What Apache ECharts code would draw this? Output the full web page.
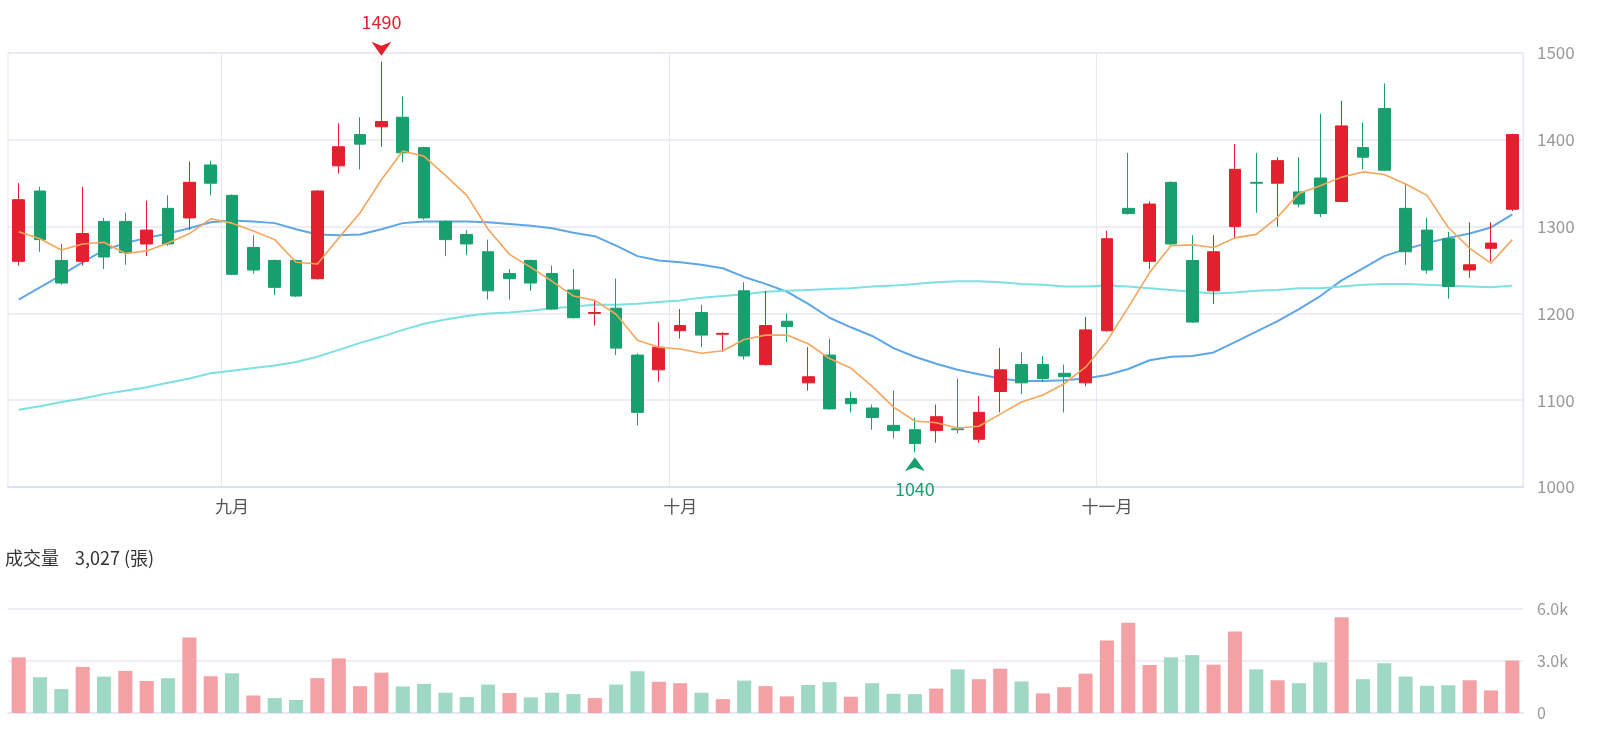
<!DOCTYPE html>
<html>
<head>
<meta charset="utf-8">
<script src="https://cdn.jsdelivr.net/npm/echarts@6/dist/echarts.min.js"></script>
<style>
  html, body { margin: 0; padding: 0; background: #fff; }
  #chart { width: 1600px; height: 735px; }
</style>
</head>
<body>
<div id="chart"></div>
<script>
const dates = [
  '08/18', '08/19', '08/22', '08/23', '08/24', '08/25', '08/26', '08/29', '08/30', '08/31',
  '09/01', '09/02', '09/05', '09/06', '09/07', '09/08', '09/12', '09/13', '09/14', '09/15',
  '09/16', '09/19', '09/20', '09/21', '09/22', '09/23', '09/26', '09/27', '09/28', '09/29', '09/30',
  '10/03', '10/04', '10/05', '10/06', '10/07', '10/11', '10/12', '10/13', '10/14', '10/17',
  '10/18', '10/19', '10/20', '10/21', '10/24', '10/25', '10/26', '10/27', '10/28', '10/31',
  '11/01', '11/02', '11/03', '11/04', '11/07', '11/08', '11/09', '11/10', '11/11', '11/14',
  '11/15', '11/16', '11/17', '11/18', '11/21', '11/22', '11/23', '11/24', '11/25', '11/28'
]
const monthNames = { '09': '九月', '10': '十月', '11': '十一月' }

// [open, close, low, high]
const ohlc = [
  [1260, 1331, 1255, 1350], [1341, 1285, 1271, 1346], [1261, 1235, 1233, 1280], [1260, 1292, 1255, 1346],
  [1306, 1265, 1251, 1310], [1306, 1270, 1256, 1316], [1280, 1296, 1266, 1330], [1321, 1280, 1278, 1336],
  [1310, 1351, 1296, 1375], [1371, 1350, 1336, 1376], [1336, 1245, 1244, 1337], [1276, 1250, 1246, 1290],
  [1261, 1230, 1221, 1262], [1261, 1220, 1219, 1262], [1240, 1341, 1239, 1342], [1370, 1392, 1361, 1419],
  [1406, 1395, 1366, 1426], [1415, 1421, 1392, 1490], [1426, 1385, 1374, 1450], [1391, 1310, 1308, 1392],
  [1306, 1285, 1266, 1307], [1291, 1280, 1267, 1296], [1271, 1226, 1216, 1285], [1246, 1240, 1216, 1251],
  [1261, 1235, 1226, 1262], [1246, 1205, 1204, 1255], [1227, 1195, 1194, 1251], [1200, 1201, 1186, 1215],
  [1206, 1160, 1152, 1240], [1152, 1086, 1071, 1154], [1135, 1161, 1121, 1190], [1180, 1186, 1171, 1205],
  [1201, 1175, 1161, 1210], [1176, 1177, 1156, 1178], [1226, 1151, 1147, 1236], [1141, 1186, 1140, 1226],
  [1191, 1185, 1167, 1200], [1120, 1127, 1111, 1161], [1152, 1090, 1089, 1171], [1102, 1096, 1086, 1110],
  [1091, 1080, 1066, 1095], [1071, 1065, 1056, 1111], [1066, 1050, 1040, 1080], [1065, 1081, 1051, 1095],
  [1067, 1066, 1062, 1125], [1055, 1086, 1051, 1105], [1110, 1135, 1086, 1160], [1141, 1120, 1107, 1155],
  [1141, 1125, 1121, 1151], [1131, 1127, 1086, 1141], [1120, 1181, 1116, 1196], [1180, 1286, 1179, 1295],
  [1321, 1315, 1314, 1385], [1260, 1326, 1251, 1329], [1351, 1280, 1279, 1352], [1261, 1190, 1189, 1290],
  [1226, 1271, 1211, 1290], [1300, 1366, 1286, 1395], [1351, 1350, 1316, 1385], [1350, 1376, 1300, 1380],
  [1340, 1326, 1322, 1380], [1356, 1315, 1311, 1430], [1329, 1416, 1328, 1445], [1391, 1380, 1366, 1420],
  [1436, 1365, 1364, 1465], [1321, 1271, 1256, 1350], [1296, 1250, 1246, 1310], [1286, 1231, 1217, 1294],
  [1250, 1256, 1241, 1305], [1275, 1281, 1260, 1305], [1320, 1406, 1318, 1407]
]

const ma5 = [
  1294, 1286, 1273, 1280, 1282, 1269, 1272, 1281, 1292, 1309,
  1304, 1295, 1285, 1259, 1257, 1287, 1316, 1354, 1387, 1381,
  1359, 1336, 1297, 1268, 1253, 1237, 1220, 1215, 1199, 1169,
  1161, 1159, 1154, 1157, 1170, 1175, 1175, 1165, 1148, 1137,
  1116, 1092, 1076, 1074, 1068, 1070, 1084, 1098, 1106, 1119,
  1138, 1168, 1207, 1247, 1278, 1279, 1276, 1287, 1291, 1311,
  1338, 1347, 1357, 1363, 1360, 1349, 1336, 1299, 1275, 1258, 1285
]
const ma20 = [
  1216, 1230, 1244, 1259, 1273, 1281, 1287, 1292, 1298, 1305,
  1307, 1306, 1304, 1297, 1291, 1290, 1291, 1297, 1304, 1306,
  1306, 1306, 1305, 1303, 1301, 1298, 1293, 1289, 1278, 1266,
  1261, 1259, 1256, 1252, 1242, 1234, 1225, 1211, 1195, 1184,
  1174, 1160, 1150, 1142, 1135, 1130, 1125, 1122, 1122, 1123,
  1125, 1129, 1136, 1146, 1150, 1151, 1155, 1167, 1179, 1191,
  1205, 1220, 1238, 1252, 1266, 1274, 1281, 1287, 1292, 1299, 1314
]
const ma60 = [
  1089, 1093, 1098, 1102, 1107, 1111, 1115, 1120, 1125, 1131,
  1134, 1137, 1140, 1144, 1150, 1158, 1166, 1173, 1181, 1188,
  1193, 1197, 1200, 1201, 1203, 1206, 1208, 1210, 1210, 1211,
  1213, 1215, 1218, 1220, 1222, 1225, 1226, 1227, 1228, 1229,
  1231, 1232, 1234, 1236, 1237, 1237, 1236, 1234, 1233, 1231,
  1231, 1232, 1231, 1229, 1227, 1225, 1223, 1224, 1226, 1227,
  1229, 1229, 1231, 1233, 1234, 1234, 1233, 1232, 1231, 1230, 1232
]

const volumes = [
  3210, 2060, 1380, 2660, 2100, 2430, 1850, 2010, 4360, 2120,
  2290, 1010, 860, 750, 2010, 3150, 1550, 2330, 1530, 1680,
  1170, 920, 1640, 1150, 900, 1170, 1090, 860, 1640, 2410,
  1800, 1720, 1170, 800, 1870, 1550, 960, 1620, 1780, 940,
  1720, 1110, 1090, 1410, 2520, 1950, 2560, 1820, 1130, 1490,
  2270, 4180, 5200, 2770, 3210, 3340, 2790, 4700, 2520, 1890,
  1720, 2920, 5520, 1950, 2870, 2100, 1570, 1600, 1890, 1300, 3027
]
// 1 = up day (red), 0 = down day (green)
const volUp = [
  1, 0, 0, 1, 0, 1, 1, 0, 1, 1,
  0, 1, 0, 0, 1, 1, 1, 1, 0, 0,
  0, 0, 0, 1, 0, 0, 0, 1, 0, 0,
  1, 1, 0, 1, 0, 1, 1, 0, 0, 1,
  0, 0, 0, 1, 0, 1, 1, 0, 1, 1,
  1, 1, 1, 1, 0, 0, 1, 1, 0, 1,
  0, 0, 1, 0, 0, 0, 0, 0, 1, 1, 1
]

const upColor = '#e2202e'
const downColor = '#17a06e'
const upVol = '#f4a1a6'
const downVol = '#9fd8c4'
const gridLine = '#e6e9f3'

const isMonthStart = (i) => i > 0 && dates[i].slice(0, 2) !== dates[i - 1].slice(0, 2)

const lastVol = volumes[volumes.length - 1]

const chart = echarts.init(document.getElementById('chart'))

const option = {
  animation: false,
  textStyle: { fontFamily: '"Noto Sans CJK TC", "Noto Sans", sans-serif' },
  title: {
    text: '{a|成交量}{b|' + lastVol.toLocaleString('en-US') + ' (張)}',
    left: 5,
    top: 549,
    padding: 0,
    textStyle: {
      fontWeight: 'normal',
      rich: {
        a: { fontSize: 18, fontWeight: 'normal', color: '#333', padding: [0, 16, 0, 0] },
        b: { fontSize: 18, fontWeight: 'normal', color: '#333' }
      }
    }
  },
  grid: [
    { left: 8, right: 77, top: 53, height: 434, show: true, borderColor: gridLine, borderWidth: 1 },
    { left: 8, right: 77, top: 609, height: 104 }
  ],
  xAxis: [
    {
      type: 'category',
      data: dates,
      gridIndex: 0,
      boundaryGap: true,
      axisLine: { lineStyle: { color: '#dde0ee', width: 2 } },
      axisTick: { show: false },
      axisLabel: {
        interval: (i) => isMonthStart(i),
        formatter: (v) => monthNames[v.slice(0, 2)] || '',
        color: '#555',
        fontSize: 17,
        margin: 11
      },
      splitLine: {
        show: true,
        interval: (i) => isMonthStart(i),
        lineStyle: { color: gridLine }
      }
    },
    {
      type: 'category',
      data: dates,
      gridIndex: 1,
      boundaryGap: true,
      axisLine: { lineStyle: { color: gridLine, width: 2 } },
      axisTick: { show: false },
      axisLabel: { show: false },
      splitLine: { show: false }
    }
  ],
  yAxis: [
    {
      type: 'value',
      gridIndex: 0,
      position: 'right',
      min: 1000,
      max: 1500,
      interval: 100,
      axisLine: { show: false },
      axisTick: { show: false },
      axisLabel: { color: '#999', fontSize: 17, margin: 14, formatter: (v) => String(v) },
      splitLine: { lineStyle: { color: gridLine, width: 1.5 } }
    },
    {
      type: 'value',
      gridIndex: 1,
      position: 'right',
      min: 0,
      max: 6000,
      interval: 3000,
      axisLine: { show: false },
      axisTick: { show: false },
      axisLabel: {
        color: '#999',
        fontSize: 16,
        margin: 14,
        formatter: (v) => (v === 0 ? '0' : (v / 1000).toFixed(1) + 'k')
      },
      splitLine: { lineStyle: { color: gridLine, width: 1.5 } }
    }
  ],
  series: [
    {
      name: 'K',
      type: 'candlestick',
      xAxisIndex: 0,
      yAxisIndex: 0,
      data: ohlc,
      barWidth: '57%',
      itemStyle: {
        color: upColor,
        color0: downColor,
        borderColor: upColor,
        borderColor0: downColor,
        borderWidth: 1
      },
      markPoint: {
        data: [
          {
            type: 'max',
            valueDim: 'highest',
            symbol: 'path://M0,0 L10,4 L20,0 L10,14 Z',
            symbolSize: [20, 14],
            symbolOffset: [0, -13],
            itemStyle: { color: upColor },
            label: { show: true, position: 'top', distance: 11, color: upColor, fontSize: 18 }
          },
          {
            type: 'min',
            valueDim: 'lowest',
            symbol: 'path://M10,0 L20,14 L10,10 L0,14 Z',
            symbolSize: [20, 14],
            symbolOffset: [0, 12],
            itemStyle: { color: downColor },
            label: { show: true, position: 'bottom', distance: 9, color: downColor, fontSize: 18 }
          }
        ]
      },
      z: 3
    },
    {
      name: 'MA5',
      type: 'line',
      data: ma5,
      showSymbol: false,
      lineStyle: { color: '#f5a55c', width: 1.6 },
      z: 4
    },
    {
      name: 'MA20',
      type: 'line',
      data: ma20,
      showSymbol: false,
      lineStyle: { color: '#5fa6e6', width: 2 },
      z: 2
    },
    {
      name: 'MA60',
      type: 'line',
      data: ma60,
      showSymbol: false,
      lineStyle: { color: '#7de0e2', width: 2 },
      z: 2
    },
    {
      name: 'Volume',
      type: 'bar',
      xAxisIndex: 1,
      yAxisIndex: 1,
      barWidth: '66%',
      data: volumes.map((v, i) => ({
        value: v,
        itemStyle: { color: volUp[i] ? upVol : downVol }
      }))
    }
  ]
}

chart.setOption(option)
</script>
</body>
</html>
